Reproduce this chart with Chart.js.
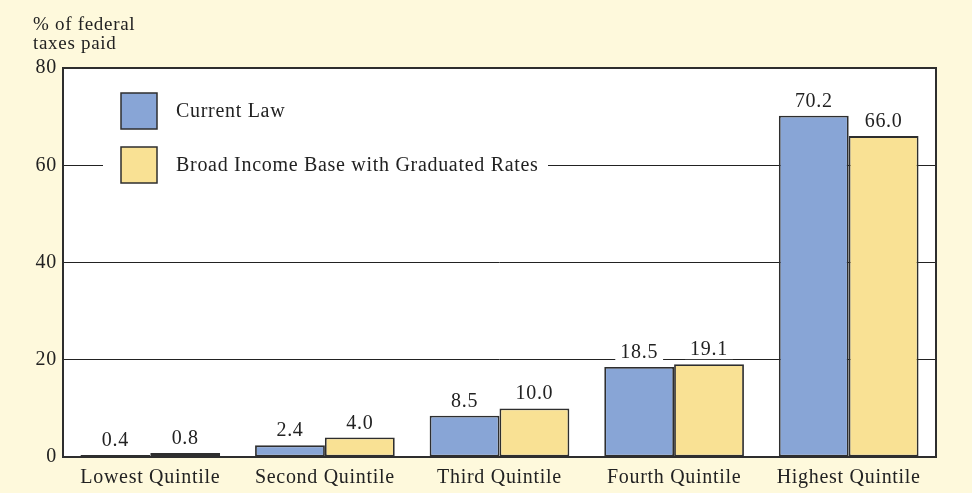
<!DOCTYPE html>
<html>
<head>
<meta charset="utf-8">
<script src="https://cdn.jsdelivr.net/npm/chart.js@4/dist/chart.umd.min.js"></script>
<style>
    html, body { margin: 0; padding: 0; background: #fef9dc; }
    #wrap { width: 972px; height: 493px; position: relative; }
</style>
</head>
<body>
<div id="wrap"><canvas id="taxChart" width="972" height="493"></canvas></div>
<script>
const categories = ['Lowest Quintile', 'Second Quintile', 'Third Quintile', 'Fourth Quintile', 'Highest Quintile'];
const currentLaw = [0.4, 2.4, 8.5, 18.5, 70.2];
const broadBase = [0.8, 4.0, 10.0, 19.1, 66.0];
const seriesNames = ['Current Law', 'Broad Income Base with Graduated Rates'];
const yTicks = [0, 20, 40, 60, 80];

const COLORS = {
    blue: '#88a5d6',
    yellow: '#f9e194',
    edge: '#2e2e2e',
    ink: '#222222',
    panel: '#fef9dc'
};

const FONT = '"Liberation Serif", "Times New Roman", serif';
const SPACING = '0.7px'; // widen Times a bit to look like the Garamond in the original

// white plot background, and a wider letter spacing for every text
const plotBg = {
    id: 'plotBg',
    beforeDraw(chart) {
        const { ctx, chartArea: a } = chart;
        ctx.letterSpacing = SPACING;
        ctx.save();
        ctx.fillStyle = '#ffffff';
        ctx.fillRect(a.left, a.top, a.right - a.left, a.bottom - a.top);
        ctx.restore();
    }
};

// frame around the plot area
const framePlugin = {
    id: 'frame',
    afterDatasetsDraw(chart) {
        const { ctx, chartArea: a } = chart;
        ctx.save();
        ctx.strokeStyle = COLORS.edge;
        ctx.lineWidth = 2;
        ctx.strokeRect(a.left, a.top, a.right - a.left, a.bottom - a.top);
        ctx.restore();
    }
};

// value labels on a white patch above each bar
const valueLabels = {
    id: 'valueLabels',
    afterDatasetsDraw(chart) {
        const { ctx } = chart;
        ctx.save();
        ctx.font = '20px ' + FONT;
        ctx.textAlign = 'center';
        ctx.textBaseline = 'alphabetic';
        chart.data.datasets.forEach((ds, i) => {
            chart.getDatasetMeta(i).data.forEach((bar, j) => {
                const txt = ds.data[j].toFixed(1);
                const w = ctx.measureText(txt).width + 10;
                const y = bar.y - 9;
                ctx.fillStyle = '#ffffff';
                ctx.fillRect(bar.x - w / 2, y - 17, w, 21);
                ctx.fillStyle = COLORS.ink;
                ctx.fillText(txt, bar.x, y);
            });
        });
        ctx.restore();
    }
};

// legend sitting inside the plot + axis caption
const legendBox = {
    id: 'legendBox',
    afterDraw(chart) {
        const { ctx, chartArea: a } = chart;
        ctx.save();
        ctx.fillStyle = '#ffffff';
        ctx.fillRect(a.left + 40, a.top + 12, 445, 120);
        const fills = [COLORS.blue, COLORS.yellow];
        ctx.font = '20px ' + FONT;
        ctx.textBaseline = 'middle';
        fills.forEach((c, i) => {
            const y = a.top + 25 + i * 54;
            ctx.fillStyle = c;
            ctx.fillRect(a.left + 58, y, 36, 36);
            ctx.strokeStyle = COLORS.edge;
            ctx.lineWidth = 1.5;
            ctx.strokeRect(a.left + 58, y, 36, 36);
            ctx.fillStyle = COLORS.ink;
            ctx.fillText(seriesNames[i], a.left + 113, y + 19);
        });

        ctx.font = '19px ' + FONT;
        ctx.textBaseline = 'alphabetic';
        ctx.fillStyle = COLORS.ink;
        ctx.fillText('% of federal', 33, 30);
        ctx.fillText('taxes paid', 33, 49);
        ctx.restore();
    }
};

const initChart = () => {
    const ctx = document.getElementById('taxChart').getContext('2d');
    new Chart(ctx, {
        type: 'bar',
        data: {
            labels: categories,
            datasets: [{
                label: seriesNames[0],
                data: currentLaw,
                backgroundColor: COLORS.blue,
                borderColor: COLORS.edge,
                borderWidth: 1.8,
                borderSkipped: false
            }, {
                label: seriesNames[1],
                data: broadBase,
                backgroundColor: COLORS.yellow,
                borderColor: COLORS.edge,
                borderWidth: 1.8,
                borderSkipped: false
            }]
        },
        options: {
            responsive: false,
            animation: false,
            layout: { padding: { top: 68, right: 36, bottom: 0, left: 0 } },
            plugins: {
                legend: { display: false },
                tooltip: { enabled: false }
            },
            datasets: {
                bar: { categoryPercentage: 0.8, barPercentage: 1.0 }
            },
            scales: {
                x: {
                    grid: { display: false },
                    border: { display: false },
                    ticks: {
                        color: COLORS.ink,
                        font: { family: FONT, size: 20 },
                        padding: 1
                    },
                    afterFit: (s) => { s.height = 36; }
                },
                y: {
                    min: 0,
                    max: 80,
                    afterBuildTicks: (s) => { s.ticks = yTicks.map(v => ({ value: v })); },
                    grid: {
                        color: (c) => (c.tick.value === 0 || c.tick.value === 80) ? 'rgba(0,0,0,0)' : '#222',
                        lineWidth: 1,
                        drawTicks: false
                    },
                    border: { display: false },
                    ticks: {
                        color: COLORS.ink,
                        font: { family: FONT, size: 20 },
                        padding: 6
                    },
                    afterFit: (s) => { s.width = 63; }
                }
            }
        },
        plugins: [plotBg, framePlugin, valueLabels, legendBox]
    });
};

window.addEventListener('DOMContentLoaded', initChart);
</script>
</body>
</html>
